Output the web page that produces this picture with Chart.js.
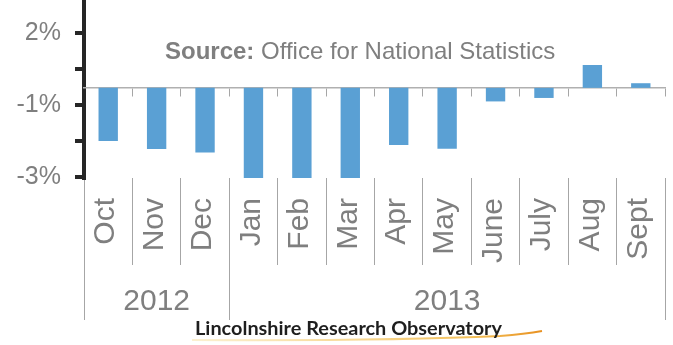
<!DOCTYPE html>
<html>
<head>
<meta charset="utf-8">
<script src="https://cdn.jsdelivr.net/npm/chart.js@4.4.1/dist/chart.umd.min.js"></script>
<style>
  html, body { margin: 0; padding: 0; background: #ffffff; }
  #wrap { position: relative; width: 673px; height: 345px; overflow: hidden; }
  #c { position: absolute; left: 0; top: 0; }
  #source { position: absolute; left: 165px; top: 39px; font-family: "Liberation Sans", Arial, sans-serif;
            font-size: 24px; line-height: 24px; color: #7f7f7f; white-space: nowrap; }
  #source b { font-weight: bold; }
  #logo { position: absolute; left: 195px; top: 319px; font-family: Lato, "Open Sans", sans-serif;
          font-weight: bold; font-size: 18px; line-height: 18px; color: #1e1e1e; white-space: nowrap;
          transform-origin: 0 0; }
  #swoosh { position: absolute; left: 190px; top: 326px; }
</style>
</head>
<body>
<div id="wrap">
  <canvas id="c" width="673" height="345"></canvas>
  <div id="source"><b>Source:</b> Office for National Statistics</div>
  <svg id="swoosh" width="360" height="19" viewBox="0 0 360 19">
    <defs>
      <linearGradient id="g1" x1="0" x2="1" y1="0" y2="0">
        <stop offset="0" stop-color="#f6d98a" stop-opacity="0.4"/>
        <stop offset="0.8" stop-color="#f0b030" stop-opacity="0.8"/>
        <stop offset="1" stop-color="#e89020" stop-opacity="1"/>
      </linearGradient>
    </defs>
    <path d="M2 14 Q 200 15 310 10 Q 335 8 352 5" stroke="url(#g1)" stroke-width="2" fill="none"/>
  </svg>
  <div id="logo">Lincolnshire Research Observatory</div>
</div>
<script>
const categories = ['Oct','Nov','Dec','Jan','Feb','Mar','Apr','May','June','July','Aug','Sept'];
const values = [-1.84, -2.12, -2.24, -3.3, -3.3, -3.3, -1.98, -2.11, -0.47, -0.35, 0.79, 0.16];
const years = ['2012', '2013'];
const yearSpans = [3, 9];
const yTickValues = [1.9, 0.65, -0.6, -1.85, -3.1];
const yTickLabels = ['2%', '', '-1%', '', '-3%'];
const yMin = -3.12;
const yMax = 3.04;

// year boundaries and centres (in month-index units)
const yearBounds = [0];
yearSpans.forEach(s => yearBounds.push(yearBounds[yearBounds.length - 1] + s));
const yearCentres = years.map((_, i) => (yearBounds[i] + yearBounds[i + 1]) / 2);

const FONT = '"Liberation Sans", Arial, sans-serif';
const GREY_TEXT = '#7f7f7f';
const GREY_LINE = '#a6a6a6';

function noPad(scale) {
  scale.paddingTop = 0; scale.paddingBottom = 0;
  scale.paddingLeft = 0; scale.paddingRight = 0;
}

new Chart(document.getElementById('c'), {
  type: 'bar',
  data: {
    labels: categories,
    datasets: [{
      data: values,
      backgroundColor: '#5aa0d4',
      borderWidth: 0,
      barPercentage: 0.4,
      categoryPercentage: 1.0,
      xAxisID: 'x',
      yAxisID: 'y'
    }]
  },
  options: {
    responsive: false,
    animation: false,
    layout: { padding: { left: 0, right: 8, top: 0, bottom: 25 } },
    plugins: { legend: { display: false }, tooltip: { enabled: false }, title: { display: false } },
    scales: {
      y: {
        type: 'linear',
        position: 'left',
        min: yMin,
        max: yMax,
        afterBuildTicks: s => { s.ticks = yTickValues.map(v => ({ value: v })); },
        afterFit: s => { s.width = 84; noPad(s); },
        ticks: {
          padding: 14,
          font: { family: FONT, size: 25 },
          color: GREY_TEXT,
          callback: (v, i) => yTickLabels[i]
        },
        grid: { drawOnChartArea: false, drawTicks: true, tickLength: 9, tickWidth: 4, lineWidth: 4, tickColor: '#262626', color: '#262626' },
        border: { display: true, color: '#262626', width: 4 }
      },
      x: {
        type: 'category',
        position: 'bottom',
        weight: 0,
        afterFit: s => { s.height = 87; noPad(s); },
        ticks: {
          autoSkip: false,
          minRotation: 90,
          maxRotation: 90,
          padding: -67,
          labelOffset: -2,
          font: { family: FONT, size: 30 },
          color: GREY_TEXT
        },
        grid: { offset: true, drawOnChartArea: false, drawTicks: true, tickLength: 87, color: GREY_LINE, tickColor: GREY_LINE, lineWidth: 1 },
        border: { display: false }
      },
      xYear: {
        type: 'linear',
        position: 'bottom',
        weight: 1,
        offset: false,
        min: 0,
        max: categories.length,
        afterBuildTicks: s => {
          const t = [];
          yearBounds.forEach(v => t.push({ value: v }));
          yearCentres.forEach(v => t.push({ value: v }));
          t.sort((a, b) => a.value - b.value);
          s.ticks = t;
        },
        afterFit: s => { s.height = 55; noPad(s); },
        ticks: {
          autoSkip: false,
          maxRotation: 0,
          minRotation: 0,
          padding: -36,
          font: { family: FONT, size: 30 },
          color: GREY_TEXT,
          callback: v => { const i = yearCentres.indexOf(v); return i >= 0 ? years[i] : ''; }
        },
        grid: {
          offset: false,
          drawOnChartArea: false, drawTicks: true, tickLength: 55, lineWidth: 1,
          color: ctx => (ctx.tick && yearBounds.includes(ctx.tick.value)) ? GREY_LINE : 'rgba(0,0,0,0)',
          tickColor: ctx => (ctx.tick && yearBounds.includes(ctx.tick.value)) ? GREY_LINE : 'rgba(0,0,0,0)'
        },
        border: { display: false }
      },
      x0: {
        type: 'category',
        position: { y: 0 },
        ticks: { display: false },
        grid: { offset: true, drawOnChartArea: false, drawTicks: true, tickLength: 8, color: GREY_LINE, tickColor: GREY_LINE, lineWidth: 1 },
        border: { display: true, color: '#b0b0b0', width: 1.5 }
      }
    }
  }
});

// fit logo text width to the reference width
(function () {
  const el = document.getElementById('logo');
  const w = el.getBoundingClientRect().width;
  if (w > 0) el.style.transform = 'scaleX(' + (307 / w) + ')';
})();
</script>
</body>
</html>
